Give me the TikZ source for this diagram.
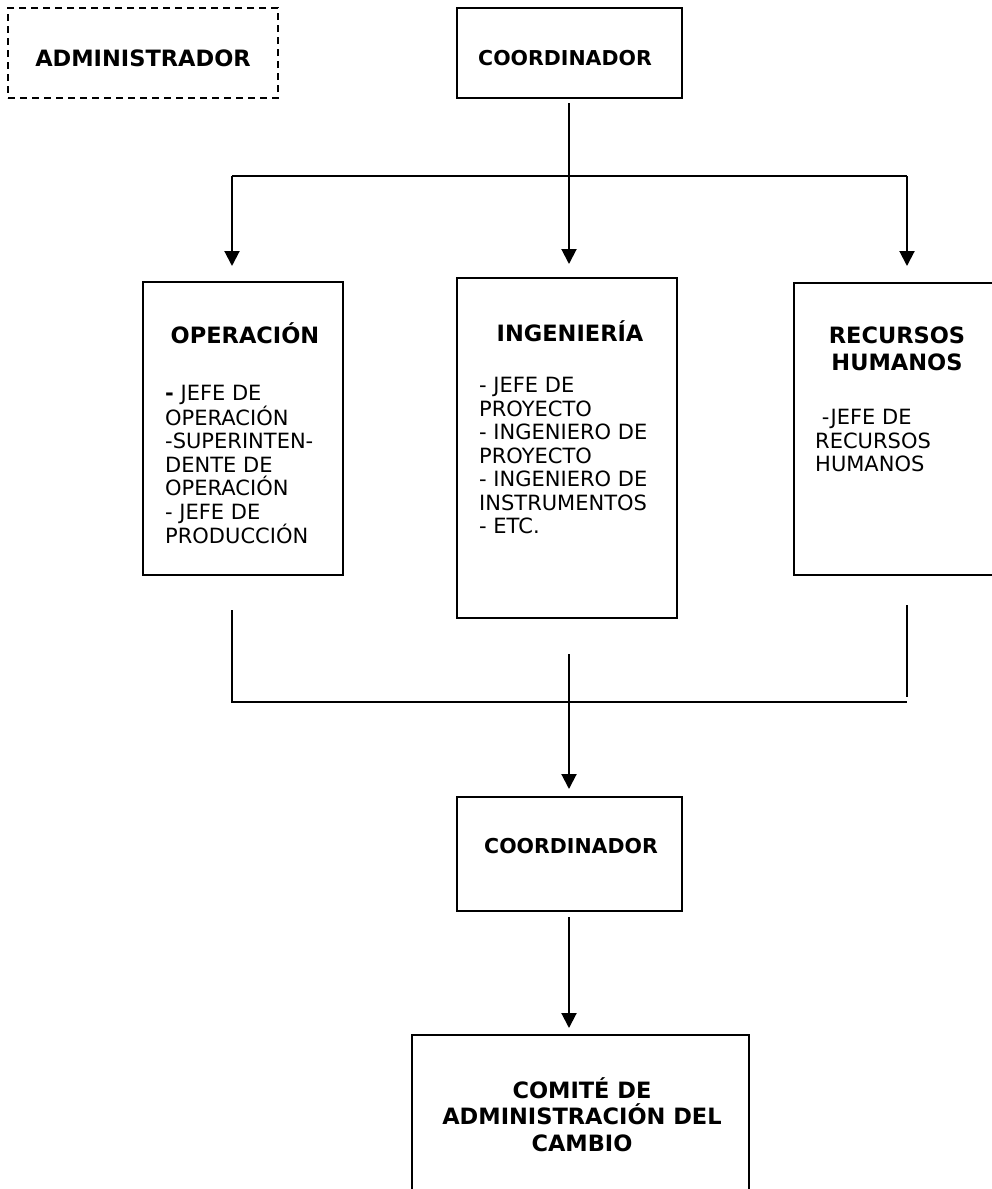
\documentclass[tikz,border=0pt]{standalone}
\usepackage{fontspec}
\setmainfont{DejaVu Sans}
\usetikzlibrary{arrows.meta}
\begin{document}
\begin{tikzpicture}[x=1pt,y=-1pt,
  box/.style={draw, rectangle, line width=2pt, inner sep=0pt},
  dashbox/.style={box, line width=1.7pt, dash pattern=on 7pt off 5pt},
  hd/.style={font=\fontsize{22.5}{26.5}\selectfont\bfseries, inner sep=0pt, align=center},
  hdsmall/.style={hd, font=\fontsize{20.5}{24}\selectfont\bfseries},
  lst/.style={font=\fontsize{21}{23.5}\selectfont, inner sep=0pt, align=left, anchor=north west},
  wire/.style={line width=2pt},
  arr/.style={line width=2pt, -{Triangle[width=15pt,length=15pt]}}
]
% canvas
\path[fill=white, use as bounding box] (0,0) rectangle (991,1189);

% boxes
\node[dashbox, minimum width=270pt, minimum height=90pt] (admin) at (143,53) {};
\node[box, minimum width=225pt, minimum height=90pt] (coordA) at (569.5,53) {};
\node[box, minimum width=200pt, minimum height=293pt] (oper) at (243,428.5) {};
\node[box, minimum width=220pt, minimum height=340pt] (inge) at (567,448) {};
\node[box, minimum width=212pt, minimum height=292pt] (rrhh) at (900,429) {};
\node[box, minimum width=225pt, minimum height=114pt] (coordB) at (569.5,854) {};
\node[box, minimum width=337pt, minimum height=170pt] (comite) at (580.5,1120) {};

% box titles
\node[hd, anchor=base] (tAdmin) at (143,66) {ADMINISTRADOR};
\node[hdsmall, anchor=base] (tCoordA) at (565,65) {COORDINADOR};
\node[hd, anchor=base] (tOper) at (245,343) {OPERACIÓN};
\node[hd, anchor=base] (tInge) at (570,341) {INGENIERÍA};
\node[hd, anchor=north] (tRrhh) at (897,327) {RECURSOS\\HUMANOS};
\node[hdsmall, anchor=base] (tCoordB) at (571,853) {COORDINADOR};
\node[hd, anchor=north] (tComite) at (582,1077) {COMITÉ DE\\ADMINISTRACIÓN DEL\\CAMBIO};

% staff lists
\node[lst] (lOper) at (165,385) {{\bfseries -} JEFE DE\\OPERACIÓN\\-SUPERINTEN-\\DENTE DE\\OPERACIÓN\\- JEFE DE\\PRODUCCIÓN};
\node[lst] (lInge) at (479,377) {- JEFE DE\\PROYECTO\\- INGENIERO DE\\PROYECTO\\- INGENIERO DE\\INSTRUMENTOS\\- ETC.};
\node[lst] (lRrhh) at (815,409) {\ -JEFE DE\\RECURSOS\\HUMANOS};

% branching from the upper coordinator
\coordinate (s1) at (569,103);
\coordinate (jL) at (232,176);
\coordinate (jR) at (907,176);
\coordinate (aOp) at (232,266);
\coordinate (aIng) at (569,264);
\coordinate (aRh) at (907,266);
\draw[arr] (s1) -- (aIng);
\draw[wire] (jL) -- (jR);
\draw[arr] (jL) -- (aOp);
\draw[arr] (jR) -- (aRh);

% merging into the lower coordinator
\coordinate (bL0) at (232,610);
\coordinate (bL1) at (232,702);
\coordinate (bR1) at (907,702);
\coordinate (bR0) at (907,605);
\coordinate (bRe) at (907,697);
\draw[wire] (bL0) -- (bL1) -- (bR1);
\draw[wire] (bR0) -- (bRe);
\coordinate (m0) at (569,654);
\coordinate (aC2) at (569,789);
\draw[arr] (m0) -- (aC2);
\coordinate (m1) at (569,917);
\coordinate (aCom) at (569,1028);
\draw[arr] (m1) -- (aCom);
\end{tikzpicture}
\end{document}
